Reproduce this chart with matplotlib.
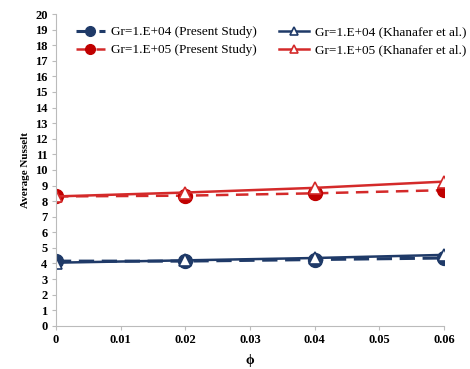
import matplotlib
matplotlib.use("Agg")
import matplotlib.pyplot as plt

plt.rcParams["font.family"] = ["Liberation Serif", "DejaVu Serif"]

phi = [0.0, 0.02, 0.04, 0.06]
nu_1e4_present = [4.15, 4.15, 4.25, 4.35]
nu_1e4_khanafer = [4.05, 4.2, 4.35, 4.55]
nu_1e5_present = [8.3, 8.35, 8.5, 8.7]
nu_1e5_khanafer = [8.3, 8.55, 8.85, 9.25]

BLUE = "#1F3A68"
RED = "#D42A2A"

fig = plt.figure(figsize=(4.7, 3.69), dpi=100)
ax = fig.add_axes([0.119, 0.117, 0.826, 0.845])

ax.plot(phi, nu_1e4_present, color=BLUE, lw=2.2, ls=(0, (5, 2.5)), marker="o", ms=10,
        mfc=BLUE, mec=BLUE, label="Gr=1.E+04 (Present Study)")
ax.plot(phi, nu_1e4_khanafer, color=BLUE, lw=1.8, marker="^", ms=8.5,
        mfc="white", mec=BLUE, mew=1.2, label="Gr=1.E+04 (Khanafer et al.)")
ax.plot(phi, nu_1e5_present, color=RED, lw=1.8, ls=(0, (5, 3)), marker="o", ms=10,
        mfc="#C00000", mec="#C00000", label="Gr=1.E+05 (Present Study)")
ax.plot(phi, nu_1e5_khanafer, color=RED, lw=1.8, marker="^", ms=8.5,
        mfc="white", mec=RED, mew=1.2, label="Gr=1.E+05 (Khanafer et al.)")

ax.set_xlim(0, 0.06)
ax.set_ylim(0, 20)
ax.set_xticks([0, 0.01, 0.02, 0.03, 0.04, 0.05, 0.06])
ax.set_xticklabels(["0", "0.01", "0.02", "0.03", "0.04", "0.05", "0.06"])
ax.set_yticks(range(0, 21))
for lab in ax.get_xticklabels() + ax.get_yticklabels():
    lab.set_fontweight("bold")
    lab.set_fontsize(9)
ax.tick_params(direction="out", length=3, color="#BBBBBB", pad=3)
ax.spines[["top", "right"]].set_visible(False)
ax.spines[["left", "bottom"]].set_color("#BBBBBB")
ax.set_xlabel("ϕ", fontsize=10, fontweight="bold", labelpad=6)
ax.set_ylabel("Average Nusselt", fontsize=8, fontweight="bold", labelpad=4)

handles, labels = ax.get_legend_handles_labels()
order = [0, 2, 1, 3]
ax.legend([handles[i] for i in order], [labels[i] for i in order], ncol=2,
          loc="upper left", bbox_to_anchor=(0.02, 1.0), frameon=False,
          fontsize=9.5, handlelength=2.2, handletextpad=0.5, columnspacing=1.7,
          labelspacing=0.45, markerscale=0.7)

fig.savefig("out.png", dpi=100)
